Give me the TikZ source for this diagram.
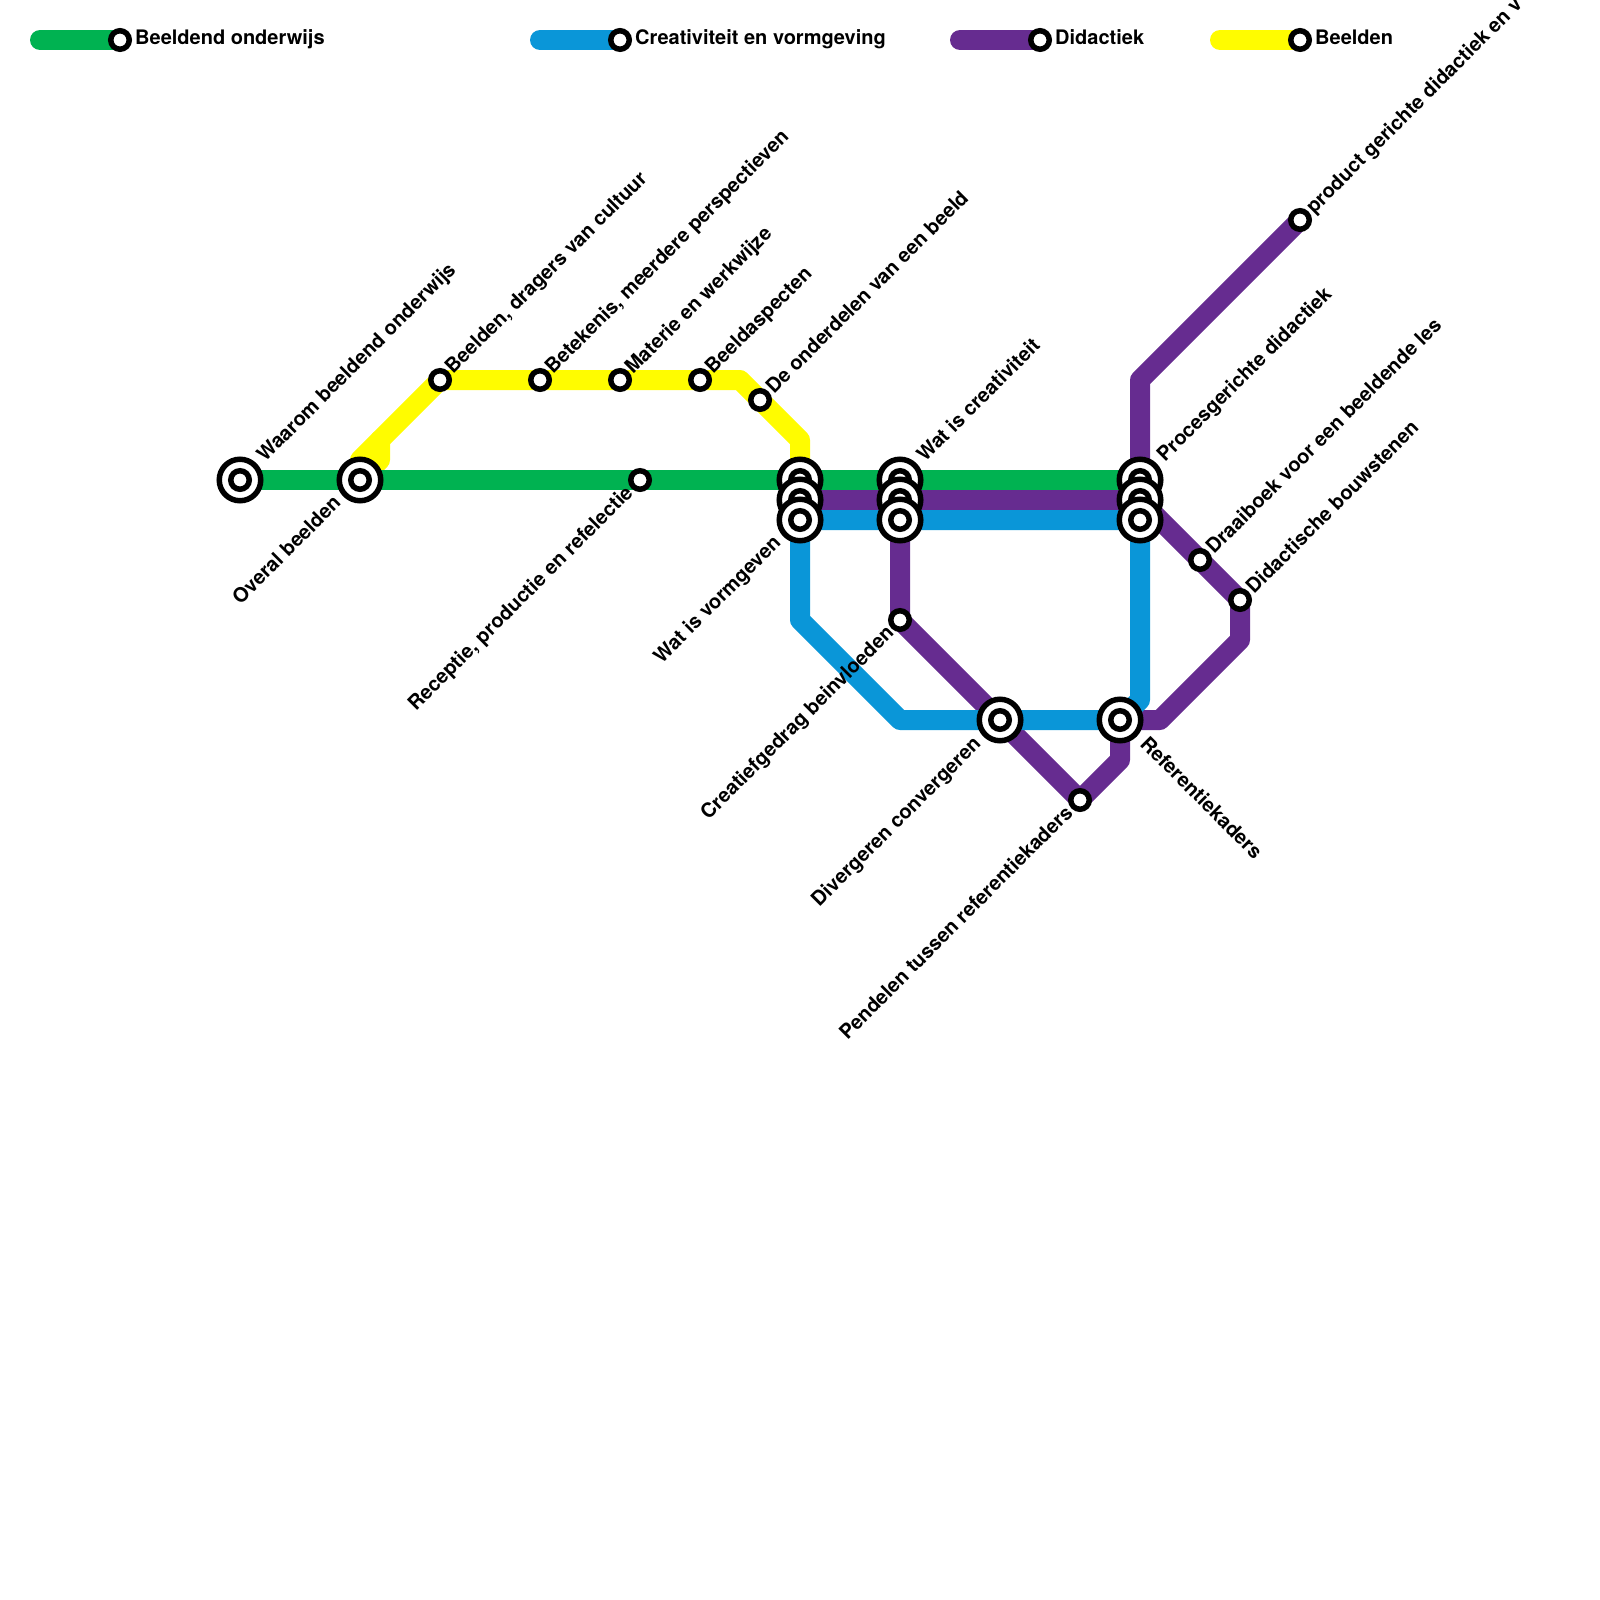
\documentclass[tikz,border=0pt]{standalone}
\usepackage{fontspec}
\setmainfont{TeX Gyre Heros}
\pgfdeclarelayer{lijnen}
\pgfsetlayers{lijnen,main}
\definecolor{groen}{HTML}{00B251}
\definecolor{blauw}{HTML}{0A96D8}
\definecolor{paars}{HTML}{662C90}
\definecolor{geel}{HTML}{FFFC00}
\tikzset{
  lijn/.style={line width=20pt, line join=round, line cap=round},
  halte/.style={circle, draw=black, fill=white, line width=5.5pt, minimum size=18.5pt, inner sep=0pt},
  ring/.style={circle, draw=black, fill=white, line width=5.5pt, minimum size=41.5pt, inner sep=0pt},
  tekst/.style={font=\fontsize{20}{24}\selectfont\bfseries, inner sep=0pt, text=black},
  links/.style={tekst, rotate=45, anchor=base east},
  rechts/.style={tekst, rotate=45, anchor=base west}
}
\newcommand{\overstap}[2]{
  \node[ring] (#1r) at (#2) {};
  \node[halte] (#1) at (#2) {};
}
\begin{document}
\begin{tikzpicture}[x=1pt, y=-1pt]
  \useasboundingbox (0,0) rectangle (1600,1600);

  % haltes
  \overstap{waarom}{240,480}
  \overstap{overal}{360,480}
  \node[halte] (dragers) at (440,380) {};
  \node[halte] (betekenis) at (540,380) {};
  \node[halte] (materie) at (620,380) {};
  \node[halte] (aspecten) at (700,380) {};
  \node[halte] (onderdelen) at (760,400) {};
  \node[halte] (receptie) at (640,480) {};
  \overstap{gbeeld}{800,480}
  \overstap{pbeeld}{800,500}
  \overstap{vormgeven}{800,520}
  \overstap{gwat}{900,480}
  \overstap{pwat}{900,500}
  \overstap{creativiteit}{900,520}
  \overstap{groep}{1140,480}
  \overstap{proces}{1140,500}
  \overstap{broep}{1140,520}
  \node[halte] (gedrag) at (900,620) {};
  \overstap{divergeren}{1000,720}
  \overstap{kaders}{1120,720}
  \node[halte] (pendelen) at (1080,800) {};
  \node[halte] (draaiboek) at (1200,560) {};
  \node[halte] (bouwstenen) at (1240,600) {};
  \node[halte] (product) at (1300,220) {};

  % legenda
  \node[halte] (lgroen) at (120,40) {};
  \node[halte] (lblauw) at (620,40) {};
  \node[halte] (lpaars) at (1040,40) {};
  \node[halte] (lgeel) at (1300,40) {};
  \coordinate (lgroen0) at (40,40);
  \coordinate (lblauw0) at (540,40);
  \coordinate (lpaars0) at (960,40);
  \coordinate (lgeel0) at (1220,40);
  \node[tekst, anchor=base west] (tgroen) at (135,45) {Beeldend onderwijs};
  \node[tekst, anchor=base west] (tblauw) at (635,45) {Creativiteit en vormgeving};
  \node[tekst, anchor=base west] (tpaars) at (1055,45) {Didactiek};
  \node[tekst, anchor=base west] (tgeel) at (1315,45) {Beelden};

  % knikpunten
  \coordinate (k1) at (360,460);
  \coordinate (k2) at (380,440);
  \coordinate (k3) at (380,460);
  \coordinate (k4) at (740,380);
  \coordinate (k5) at (800,440);
  \coordinate (k6) at (800,620);
  \coordinate (k7) at (900,720);
  \coordinate (k8) at (1140,700);
  \coordinate (k9) at (1140,380);
  \coordinate (k10) at (1240,640);
  \coordinate (k11) at (1160,720);
  \coordinate (k12) at (1120,760);

  \begin{pgfonlayer}{lijnen}
    \draw[lijn, geel] (overal.center) -- (k1) -- (dragers.center) -- (k4) -- (k5) -- (gbeeld.center);
    \draw[lijn, geel] (overal.center) -- (k3) -- (k2);
    \draw[lijn, geel] (lgeel0) -- (lgeel.center);
    \draw[lijn, paars] (pbeeld.center) -- (proces.center);
    \draw[lijn, paars] (product.center) -- (k9) -- (proces.center) -- (bouwstenen.center) -- (k10) -- (k11) -- (kaders.center) -- (k12) -- (pendelen.center) -- (divergeren.center) -- (gedrag.center) -- (pwat.center);
    \draw[lijn, paars] (lpaars0) -- (lpaars.center);
    \draw[lijn, blauw] (vormgeven.center) -- (broep.center) -- (k8) -- (kaders.center) -- (k7) -- (k6) -- (vormgeven.center);
    \draw[lijn, blauw] (lblauw0) -- (lblauw.center);
    \draw[lijn, groen] (waarom.center) -- (groep.center);
    \draw[lijn, groen] (lgroen0) -- (lgroen.center);
  \end{pgfonlayer}

  % teksten
  \node[rechts] (t1) at (265,463) {Waarom beeldend onderwijs};
  \node[links] (t2) at (342,504) {Overal beelden};
  \node[rechts] (t3) at (453,375) {Beelden, dragers van cultuur};
  \node[rechts] (t4) at (553,375) {Betekenis, meerdere perspectieven};
  \node[rechts] (t5) at (633,375) {Materie en werkwijze};
  \node[rechts] (t6) at (713,375) {Beeldaspecten};
  \node[rechts] (t7) at (774,395) {De onderdelen van een beeld};
  \node[links] (t8) at (634,494) {Receptie, productie en refelectie};
  \node[links] (t9) at (782,544) {Wat is vormgeven};
  \node[rechts] (t10) at (925,463) {Wat is creativiteit};
  \node[rechts] (t11) at (1165,463) {Procesgerichte didactiek};
  \node[links] (t12) at (895,634) {Creatiefgedrag beinvloeden};
  \node[links] (t13) at (982,745) {Divergeren convergeren};
  \node[links] (t14) at (1074,814) {Pendelen tussen referentiekaders};
  \node[tekst, rotate=-45, anchor=base west] (t15) at (1139,745) {Referentiekaders};
  \node[rechts] (t16) at (1214,555) {Draaiboek voor een beeldende les};
  \node[rechts] (t17) at (1254,595) {Didactische bouwstenen};
  \node[rechts] (t18) at (1314,215) {product gerichte didactiek en v};
\end{tikzpicture}
\end{document}
